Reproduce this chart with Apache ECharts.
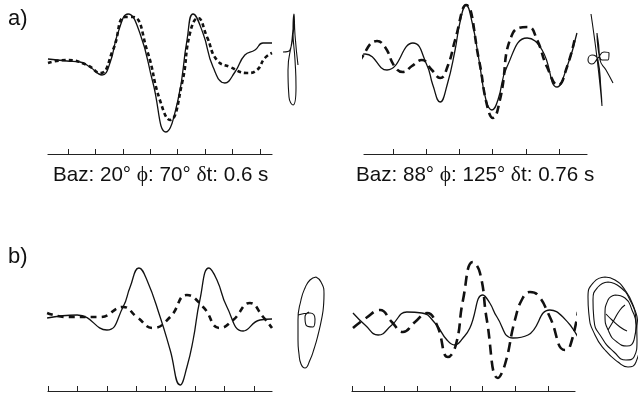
<!DOCTYPE html>
<html>
<head>
<meta charset="utf-8">
<script src="https://cdn.jsdelivr.net/npm/echarts@6/dist/echarts.min.js"></script>
<style>
  html, body { margin: 0; padding: 0; background: #fff; }
  #chart { width: 638px; height: 397px; }
</style>
</head>
<body>
<div id="chart"></div>
<script>
var ink = '#111';

// panel labels and captions
var panelLabels = ['a)', 'b)'];
var captionA1 = ['Baz: 20°', 'ϕ', ': 70°', 'δ', 't: 0.6 s'];
var captionA2 = ['Baz: 88°', 'ϕ', ': 125°', 'δ', 't: 0.76 s'];

// tick positions (time, tick units)
var aLeftTicks = [0, 1, 2, 3, 4, 5, 6, 7];
var aRightTicks = [0, 1, 2, 3, 4, 5];
var bLeftTicks = [0, 1, 2, 3, 4, 5, 6, 7];
var bRightTicks = [0, 1, 2, 3, 4, 5, 6];

// a) left: [time, amplitude]
var aLeftSolid = [[-0.73, 0.1], [-0.04, -0.1], [0.44, -0.2], [0.80, -0.7], [1.24, -1.5], [1.53, -0.3],
    [1.82, 2.7], [2.19, 4.6], [2.62, 2.7], [3.10, -2.3], [3.57, -7.2], [4.01, -4.0], [4.34, 2.0],
    [4.56, 4.6], [4.92, 2.7], [5.29, -0.7], [5.72, -2.3], [6.09, -1.2], [6.45, 0.5], [6.82, 1.0],
    [7.11, 1.7], [7.44, 1.7]];
var aLeftDashed = [[-0.73, -0.3], [-0.04, 0], [0.69, -0.5], [1.17, -1.3], [1.64, 1.0], [2.08, 4.3],
    [2.37, 4.3], [2.88, 1.0], [3.35, -4.0], [3.72, -6.0], [4.16, -2.3], [4.45, 2.7], [4.74, 4.2],
    [5.07, 2.3], [5.43, 0], [5.91, -0.7], [6.53, -1.3], [6.89, -1.0], [7.18, 0.2], [7.44, 0.7]];

// a) right
var aRightSolid = [[-1.23, 0.2], [-0.84, 0.6], [-0.18, -1.0], [0.60, 1.7], [1.02, -0.5], [1.20, -2.5],
    [1.42, -4.2], [1.63, -2.5], [1.87, 1.0], [2.02, 3.8], [2.20, 5.5], [2.38, 3.8], [2.59, 0],
    [2.80, -4.0], [2.98, -5.0], [3.16, -4.0], [3.43, -0.7], [4.04, 2.2], [4.49, 1.0], [4.94, -2.7],
    [5.24, -0.7], [5.54, 2.7]];
var aRightDashed = [[-1.23, -1.3], [-0.99, 0], [-0.48, 1.9], [-0.24, 1.3], [0.06, -0.7], [0.30, -1.2],
    [0.57, -0.6], [0.87, 0], [1.17, -1.0], [1.42, -1.8], [1.66, -0.5], [1.87, 2.0], [2.20, 5.5],
    [2.59, 0], [2.83, -4.5], [3.01, -5.8], [3.22, -4.0], [3.61, 2.7], [4.07, 3.3], [4.34, 2.0],
    [4.64, -0.7], [4.97, -2.5], [5.24, -0.7], [5.48, 2.2]];

// b) left
var bLeftSolid = [[-0.03, 0], [0.99, 0.3], [2.00, -1.2], [2.55, 1.1], [2.79, 3.1], [3.09, 5.0],
    [3.36, 3.8], [3.81, 0.1], [4.15, -3.2], [4.49, -6.7], [4.72, -4.9], [4.93, -2.2], [5.16, 1.8],
    [5.47, 5.0], [5.74, 3.8], [6.08, 1.1], [6.63, -1.3], [7.20, -0.2], [7.61, -0.1]];
var bLeftDashed = [[-0.03, 0.5], [0.65, 0.1], [1.77, 0.1], [2.55, 1.1], [3.02, 0.1], [3.57, -1.0],
    [4.15, 0.1], [4.72, 2.3], [5.27, 1.1], [5.84, -1.0], [6.29, -0.2], [6.86, 1.5], [7.31, 0.1],
    [7.61, -1.0]];

// b) right
var bRightSolid = [[0.03, 0.7], [0.40, -0.5], [0.80, -1.5], [1.22, -0.5], [1.68, 0.8], [2.14, 0.7],
    [2.54, -0.3], [2.91, -2.0], [3.15, -2.5], [3.40, -1.8], [3.61, -0.8], [4.01, 2.5], [4.22, 1.7],
    [4.44, 0.3], [4.93, -1.8], [5.39, -1.5], [6.06, 1.0], [6.46, 0.3], [6.92, -1.7]];
var bRightDashed = [[0.03, -0.8], [0.43, 0.2], [0.86, 1.0], [1.22, -0.2], [1.56, -1.2], [1.93, -0.2],
    [2.30, 0.7], [2.60, -0.5], [2.94, -3.7], [3.18, -2.5], [3.40, 2.0], [3.70, 5.8], [3.92, 4.7],
    [4.13, 0], [4.47, -5.8], [4.68, -4.5], [4.99, 0], [5.23, 2.2], [5.45, 2.8], [5.69, 2.5],
    [6.06, 0.3], [6.52, -3.0], [6.67, -2.7], [6.92, 0.8]];

// particle motion [transverse, radial]
var pmALeft = [[-0.8, 0.8], [-0.1, 1.0], [0.3, 4.6], [0.1, 2.0], [-0.3, -1.0], [-0.2, -3.7], [0.2, -4.5],
    [0.5, -2.7], [0.4, 0], [0.2, 3.0], [0.3, 4.6], [0.4, 2.5], [0.7, -0.5]];
var pmARight = [[-0.9, 4.6], [-0.6, 2.5], [-0.3, 0.2], [0, -2.5], [0.2, -4.6], [0.1, -3.0], [-0.2, 0],
    [-0.8, 0.5], [-1.2, 0], [-0.8, -0.4], [-0.2, 0.2], [0.4, 0.8], [0.9, 0.7], [0.8, 0], [0.2, 0],
    [-0.2, 2.0], [-0.3, 2.7], [0, 0], [0.6, -1.0], [1.3, -2.3]];
var pmBLeftOuter = [[0.6, 4.5], [1.1, 4.0], [1.4, 2.8], [1.35, 1.6], [1.2, 0.5], [0.8, -1.3], [0.4, -2.7],
    [0, -3.8], [-0.5, -4.6], [-0.9, -4.2], [-1.1, -3.2], [-1.2, -1.8], [-1.2, 0.2], [-0.9, 2.2],
    [-0.5, 3.4], [0, 4.2], [0.6, 4.5]];
var pmBLeftInner = [[-1.2, 0.7], [0, 0.9], [0.5, 0.3], [0.3, -0.5], [-0.4, -0.3], [-0.5, 0.5], [-0.1, 1.0]];
var pmBRightOuter = [[-0.8, 4.5], [0.2, 4.2], [1.2, 3.2], [2.0, 1.7], [2.5, -0.3], [2.6, -2.3], [2.3, -4.0],
    [1.5, -4.5], [0.5, -4.0], [-0.8, -2.8], [-1.8, -1.3], [-2.4, 0.7], [-2.5, 2.5], [-1.9, 4.0], [-0.8, 4.5]];
var pmBRightMid = [[-0.5, 4.0], [0.7, 3.5], [1.7, 2.2], [2.3, 0.2], [2.4, -1.8], [2.1, -3.5], [1.3, -3.8],
    [0.1, -3.0], [-1.1, -1.6], [-1.9, 0.2], [-2.0, 2.2], [-1.5, 3.5], [-0.5, 4.0]];
var pmBRightInner = [[0.2, 2.7], [1.2, 2.4], [1.9, 1.2], [2.3, -0.3], [2.1, -1.8], [1.4, -2.4], [0.4, -2.0],
    [-0.4, -1.0], [-0.8, 0.7], [-0.5, 2.2], [0.2, 2.7]];
var pmBRightCross1 = [[-0.7, 0.8], [-0.1, 0.2], [0.7, -0.5], [1.4, -0.9]];
var pmBRightCross2 = [[-0.5, -0.8], [0.1, 0.2], [0.7, 1.2], [1.2, 1.7]];

var myChart = echarts.init(document.getElementById('chart'), null, { renderer: 'canvas' });

// waveform boxes first (0-3), particle motion boxes after (4-7)
var grids = [
    { left: 48, top: 0, width: 224, height: 154 },
    { left: 364, top: 0, width: 223, height: 154 },
    { left: 48, top: 200, width: 224, height: 191 },
    { left: 352, top: 200, width: 223, height: 191 },
    { left: 276, top: 5, width: 30, height: 110 },
    { left: 580, top: 5, width: 40, height: 110 },
    { left: 290, top: 270, width: 40, height: 105 },
    { left: 583, top: 270, width: 55, height: 105 }
];
var xRanges = [[-0.73, 7.44], [-0.873, 5.843], [0, 7.61], [0, 6.83], [-1.5, 1.5], [-2, 2], [-2, 2], [-3, 2.5]];
var yRanges = [[-9.4, 6.0], [-9.4, 6.0], [-7.3, 11.8], [-7.1, 12], [-5.5, 5.5], [-5.5, 5.5], [-5.3, 5.2], [-5.3, 5.2]];
var tickSets = [aLeftTicks, aRightTicks, bLeftTicks, bRightTicks];

var xAxes = xRanges.map(function (r, i) {
    var isWave = i < 4;
    return {
        type: 'value',
        gridIndex: i,
        min: r[0],
        max: r[1],
        show: isWave,
        axisLine: { show: isWave, onZero: false, lineStyle: { color: '#222', width: 1.2 } },
        axisTick: {
            show: isWave,
            inside: true,
            length: 5,
            customValues: isWave ? tickSets[i] : undefined,
            lineStyle: { color: '#222', width: 1 }
        },
        axisLabel: { show: false },
        splitLine: { show: false }
    };
});
var yAxes = yRanges.map(function (r, i) {
    return { type: 'value', gridIndex: i, min: r[0], max: r[1], show: false };
});

function wave(idx, data, dash, width) {
    return {
        type: 'line',
        xAxisIndex: idx,
        yAxisIndex: idx,
        data: data,
        smooth: 0.5,
        symbol: 'none',
        clip: false,
        silent: true,
        lineStyle: { color: ink, width: width, type: dash }
    };
}
function pm(idx, data) {
    return {
        type: 'line',
        xAxisIndex: idx,
        yAxisIndex: idx,
        data: data,
        smooth: 0.55,
        symbol: 'none',
        clip: false,
        silent: true,
        lineStyle: { color: ink, width: 1.1 }
    };
}

var capRich = {
    n: { fontFamily: 'Liberation Sans', fontSize: 20.6, fontWeight: 'normal', color: ink },
    g: { fontFamily: 'Liberation Serif', fontSize: 21.5, fontWeight: 'normal', color: ink }
};
function capText(c) {
    return '{n|' + c[0] + '} {g|' + c[1] + '}{n|' + c[2] + '} {g|' + c[3] + '}{n|' + c[4] + '}';
}

var option = {
    animation: false,
    backgroundColor: '#fff',
    title: [
        { text: panelLabels[0], left: 8, top: 8, padding: 0,
          textStyle: { fontFamily: 'Liberation Sans', fontSize: 22, fontWeight: 'normal', color: ink } },
        { text: panelLabels[1], left: 8, top: 246, padding: 0,
          textStyle: { fontFamily: 'Liberation Sans', fontSize: 22, fontWeight: 'normal', color: ink } },
        { text: capText(captionA1), left: 53, top: 164, padding: 0,
          textStyle: { fontSize: 20.6, fontWeight: 'normal', color: ink, rich: capRich } },
        { text: capText(captionA2), left: 356, top: 164, padding: 0,
          textStyle: { fontSize: 20.6, fontWeight: 'normal', color: ink, rich: capRich } }
    ],
    grid: grids,
    xAxis: xAxes,
    yAxis: yAxes,
    series: [
        wave(0, aLeftSolid, 'solid', 1.3),
        wave(0, aLeftDashed, [4, 3], 2.6),
        wave(1, aRightSolid, 'solid', 1.3),
        wave(1, aRightDashed, [8, 5], 2.6),
        wave(2, bLeftSolid, 'solid', 1.3),
        wave(2, bLeftDashed, [6, 5], 2.6),
        wave(3, bRightSolid, 'solid', 1.3),
        wave(3, bRightDashed, [10, 6], 2.6),
        pm(4, pmALeft),
        pm(5, pmARight),
        pm(6, pmBLeftOuter),
        pm(6, pmBLeftInner),
        pm(7, pmBRightOuter),
        pm(7, pmBRightMid),
        pm(7, pmBRightInner),
        pm(7, pmBRightCross1),
        pm(7, pmBRightCross2)
    ]
};
myChart.setOption(option);
</script>
</body>
</html>
